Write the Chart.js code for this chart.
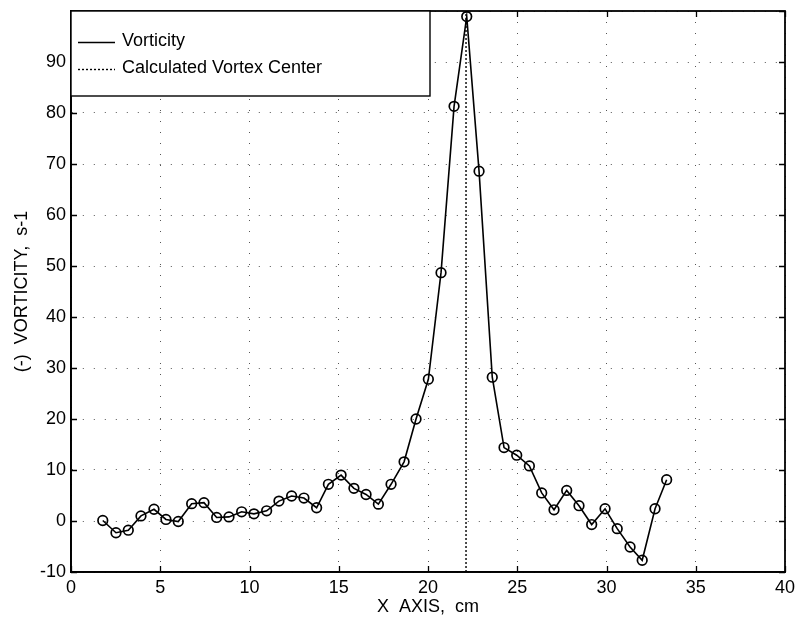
<!DOCTYPE html>
<html>
<head>
<meta charset="utf-8">
<script src="https://cdn.jsdelivr.net/npm/chart.js@4/dist/chart.umd.min.js"></script>
<style>
    html, body { margin: 0; padding: 0; background: #fff; }
    #wrap { width: 800px; height: 623px; }
</style>
</head>
<body>
<div id="wrap"><canvas id="chart" width="800" height="623"></canvas></div>
<script>
// values
const xPositions = [
    1.78, 2.52, 3.21, 3.92, 4.65, 5.32, 6.01, 6.76, 7.45, 8.16,
    8.85, 9.56, 10.25, 10.96, 11.65, 12.36, 13.05, 13.76, 14.42, 15.13,
    15.85, 16.53, 17.22, 17.93, 18.66, 19.33, 20.02, 20.73, 21.46, 22.17,
    22.86, 23.6, 24.26, 24.97, 25.68, 26.37, 27.06, 27.77, 28.46, 29.17,
    29.92, 30.6, 31.32, 32.0, 32.72, 33.37
];
const vorticity = [
    0.1, -2.3, -1.8, 1.0, 2.3, 0.3, -0.1, 3.4, 3.6, 0.7,
    0.8, 1.8, 1.4, 2.0, 3.9, 4.9, 4.5, 2.6, 7.2, 9.0,
    6.4, 5.2, 3.3, 7.2, 11.6, 20.0, 27.8, 48.7, 81.3, 98.9,
    68.6, 28.2, 14.4, 12.9, 10.8, 5.5, 2.2, 6.0, 3.0, -0.7,
    2.4, -1.5, -5.1, -7.7, 2.4, 8.1
];
const vortexCenter = 22.13;
const yRange = [-10, 100];
const xRange = [0, 40];
const seriesLabels = ["Vorticity", "Calculated Vortex Center"];

const FONT = "Arial, 'Liberation Sans', sans-serif";

// MATLAB style box: inward ticks on all four sides plus top/right border
const boxTicks = {
    id: "boxTicks",
    afterDatasetsDraw(chart) {
        const { ctx, chartArea: a, scales } = chart;
        const len = 6;
        ctx.save();
        ctx.strokeStyle = "#000";
        ctx.lineWidth = 1.3;
        ctx.beginPath();
        for (const t of scales.x.ticks) {
            const px = Math.round(scales.x.getPixelForValue(t.value)) + 0.5;
            ctx.moveTo(px, a.bottom); ctx.lineTo(px, a.bottom - len);
            ctx.moveTo(px, a.top); ctx.lineTo(px, a.top + len);
        }
        for (const t of scales.y.ticks) {
            const py = Math.round(scales.y.getPixelForValue(t.value)) + 0.5;
            ctx.moveTo(a.left, py); ctx.lineTo(a.left + len, py);
            ctx.moveTo(a.right, py); ctx.lineTo(a.right - len, py);
        }
        ctx.stroke();
        ctx.lineWidth = 1.8;
        ctx.strokeRect(a.left, a.top, a.right - a.left, a.bottom - a.top);
        ctx.restore();
    },
    afterDraw(chart) {
        // legend box in the upper left corner
        const { ctx, chartArea: a } = chart;
        const x0 = a.left, y0 = a.top, w = 359, h = 85;
        ctx.save();
        ctx.fillStyle = "#fff";
        ctx.fillRect(x0, y0, w, h);
        ctx.strokeStyle = "#000";
        ctx.lineWidth = 1.4;
        ctx.strokeRect(x0, y0, w, h);
        ctx.font = "18px " + FONT;
        ctx.textBaseline = "middle";
        ctx.fillStyle = "#000";
        const rows = [31, 58];
        chart.data.datasets.forEach((ds, i) => {
            const yy = y0 + rows[i] + 0.5;
            ctx.beginPath();
            ctx.setLineDash(ds.borderDash || []);
            ctx.lineWidth = ds.borderWidth;
            ctx.moveTo(x0 + 7, yy);
            ctx.lineTo(x0 + 44, yy);
            ctx.stroke();
            ctx.setLineDash([]);
            ctx.fillText(ds.label, x0 + 51, yy - 1);
        });
        ctx.restore();
    }
};

const ctx = document.getElementById("chart").getContext("2d");
new Chart(ctx, {
    type: "scatter",
    data: {
        datasets: [
            {
                label: seriesLabels[0],
                data: xPositions.map((x, i) => ({ x: x, y: vorticity[i] })),
                showLine: true,
                borderColor: "#000",
                borderWidth: 1.6,
                tension: 0,
                pointRadius: 4.8,
                pointBorderWidth: 1.7,
                pointBorderColor: "#000",
                pointBackgroundColor: "rgba(0,0,0,0)",
            },
            {
                label: seriesLabels[1],
                data: [
                    { x: vortexCenter, y: yRange[0] },
                    { x: vortexCenter, y: yRange[1] },
                ],
                showLine: true,
                borderColor: "#000",
                borderWidth: 1.4,
                borderDash: [2, 2],
                pointRadius: 0,
            },
        ],
    },
    options: {
        responsive: false,
        animation: false,
        layout: { padding: { top: 11, right: 15, left: 0, bottom: 0 } },
        plugins: {
            legend: { display: false },
            tooltip: { enabled: false },
        },
        scales: {
            x: {
                type: "linear",
                min: xRange[0],
                max: xRange[1],
                afterFit: (s) => {
                    s.height = 51;
                    s.paddingLeft = 0;
                    s.paddingRight = 0;
                },
                ticks: {
                    stepSize: 5,
                    color: "#000",
                    font: { size: 18, family: FONT },
                    padding: 5,
                    maxRotation: 0,
                },
                grid: {
                    color: "#555",
                    lineWidth: 1,
                    drawTicks: false,
                },
                border: { display: true, color: "#000", width: 1.8, dash: [1, 10] },
                title: {
                    display: true,
                    text: "X  AXIS,  cm",
                    color: "#000",
                    font: { size: 18, family: FONT },
                    padding: { top: 0, bottom: 5 },
                },
            },
            y: {
                type: "linear",
                min: yRange[0],
                max: yRange[1],
                afterFit: (s) => {
                    s.width = 71;
                    s.paddingTop = 0;
                    s.paddingBottom = 0;
                },
                ticks: {
                    stepSize: 10,
                    color: "#000",
                    font: { size: 18, family: FONT },
                    padding: 5,
                    callback: (v) => (v === yRange[1] ? "" : v),
                },
                grid: {
                    color: "#555",
                    lineWidth: 1,
                    drawTicks: false,
                },
                border: { display: true, color: "#000", width: 1.8, dash: [1, 10] },
                title: {
                    display: true,
                    text: "(-)  VORTICITY,  s-1",
                    color: "#000",
                    font: { size: 18, family: FONT },
                    padding: { top: 11, bottom: 0 },
                },
            },
        },
    },
    plugins: [boxTicks],
});
</script>
</body>
</html>
